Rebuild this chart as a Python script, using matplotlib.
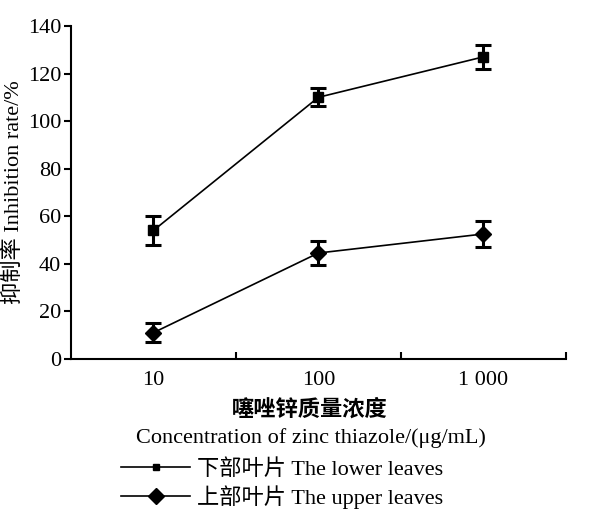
import matplotlib
matplotlib.use("Agg")
import matplotlib.pyplot as plt
from matplotlib.lines import Line2D

plt.rcParams['font.family'] = ['Liberation Serif', 'Noto Sans CJK SC']

# data
conc_labels = ['10', '100', '1 000']
lower_mean = [54, 110, 127]
lower_err = [6, 3.8, 5]
upper_mean = [11, 44.5, 52.5]
upper_err = [4, 5, 5.5]
y_ticks = [0, 20, 40, 60, 80, 100, 120, 140]

xpos = [i + 0.5 for i in range(len(conc_labels))]

fig = plt.figure(figsize=(6.07, 5.2), dpi=100)
ax = fig.add_axes([0.117, 0.31, 0.815, 0.64])

ax.errorbar(xpos, lower_mean, yerr=lower_err, color='black', lw=1.2,
            marker='s', ms=7, elinewidth=2.2, capsize=6, capthick=2.2)
ax.errorbar(xpos, upper_mean, yerr=upper_err, color='black', lw=1.2,
            marker='D', ms=8, elinewidth=2.2, capsize=6, capthick=2.2)

ax.set_xlim(0, 3)
ax.set_ylim(0, 140)
ax.set_yticks(y_ticks)
ax.set_xticks([1, 2, 3])
ax.set_xticklabels([])
ax.tick_params(axis='x', direction='in', length=5, width=1.5)
ax.tick_params(axis='y', direction='out', length=5, width=1.5, labelsize=16, pad=2)
for i, lab in enumerate(conc_labels):
    ax.text(xpos[i], -5.2, lab, ha='center', va='top', fontsize=16)

ax.spines['top'].set_visible(False)
ax.spines['right'].set_visible(False)
ax.spines['left'].set_linewidth(1.5)
ax.spines['bottom'].set_linewidth(1.5)

ax.set_ylabel('抑制率 Inhibition rate/%', fontsize=16, labelpad=3)

fig.text(0.51, 0.212, '噻唑锌质量浓度', ha='center', va='center', fontsize=16, fontweight='bold')
fig.text(0.513, 0.158, 'Concentration of zinc thiazole/(μg/mL)', ha='center', va='center', fontsize=16)

handles = [Line2D([], [], color='black', lw=1.2, marker='s', ms=5),
           Line2D([], [], color='black', lw=1.2, marker='D', ms=8)]
fig.legend(handles, ['下部叶片 The lower leaves', '上部叶片 The upper leaves'],
           loc='upper left', bbox_to_anchor=(0.2, 0.117), frameon=False,
           fontsize=16, handlelength=3.1, handletextpad=0.3, labelspacing=0.25,
           borderpad=0, borderaxespad=0)

fig.savefig('out.png', dpi=100)
